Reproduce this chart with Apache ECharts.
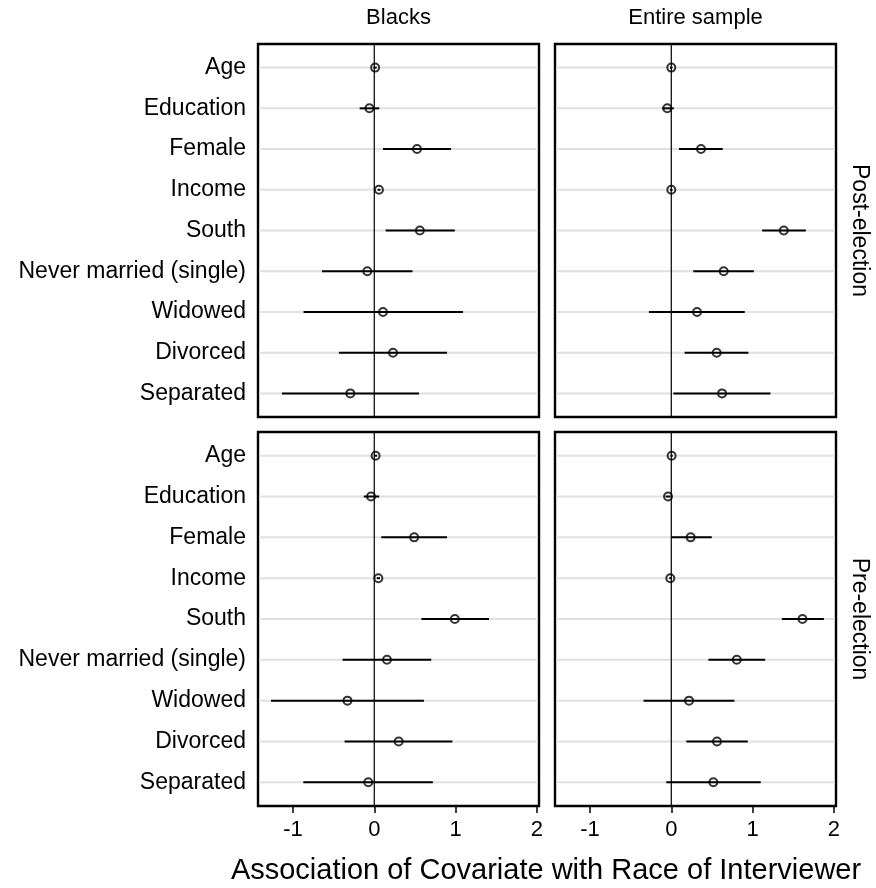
<!DOCTYPE html>
<html>
<head>
<meta charset="utf-8">
<script src="https://cdn.jsdelivr.net/npm/echarts@6/dist/echarts.min.js"></script>
<style>html,body{margin:0;padding:0;background:#fff}#c{width:876px;height:888px}</style>
</head>
<body>
<div id="c"></div>
<script>
const categories = ['Age','Education','Female','Income','South','Never married (single)','Widowed','Divorced','Separated'];
const xTicks = [-1, 0, 1, 2];
const colTitles = ['Blacks', 'Entire sample'];
const rowTitles = ['Post-election', 'Pre-election'];
const xTitle = 'Association of Covariate with Race of Interviewer';

// Post-election, Blacks
const postBlacksEst = [0.01, -0.06, 0.525, 0.057, 0.56, -0.086, 0.107, 0.23, -0.295];
const postBlacksLo  = [-0.01, -0.18, 0.107, 0.04, 0.14, -0.644, -0.87, -0.435, -1.136];
const postBlacksHi  = [0.03, 0.06, 0.943, 0.075, 0.99, 0.47, 1.09, 0.894, 0.55];
// Post-election, Entire sample
const postAllEst = [0.0, -0.05, 0.365, 0.0, 1.383, 0.644, 0.316, 0.558, 0.624];
const postAllLo  = [-0.015, -0.11, 0.094, -0.015, 1.117, 0.27, -0.275, 0.164, 0.025];
const postAllHi  = [0.015, 0.03, 0.632, 0.015, 1.654, 1.014, 0.903, 0.948, 1.219];
// Pre-election, Blacks
const preBlacksEst = [0.016, -0.04, 0.49, 0.05, 0.99, 0.156, -0.33, 0.30, -0.074];
const preBlacksLo  = [0.0, -0.13, 0.086, 0.03, 0.58, -0.39, -1.27, -0.365, -0.873];
const preBlacksHi  = [0.035, 0.06, 0.894, 0.07, 1.41, 0.70, 0.61, 0.96, 0.72];
// Pre-election, Entire sample
const preAllEst = [0.004, -0.04, 0.238, -0.012, 1.613, 0.805, 0.218, 0.562, 0.517];
const preAllLo  = [-0.01, -0.07, 0.0, -0.025, 1.359, 0.456, -0.341, 0.185, -0.062];
const preAllHi  = [0.018, -0.01, 0.497, 0.0, 1.876, 1.154, 0.776, 0.94, 1.10];

const FONT = '"Liberation Sans", Arial, Helvetica, sans-serif';

const panels = [
  {row: 0, col: 0, est: postBlacksEst, lo: postBlacksLo, hi: postBlacksHi},
  {row: 0, col: 1, est: postAllEst, lo: postAllLo, hi: postAllHi},
  {row: 1, col: 0, est: preBlacksEst, lo: preBlacksLo, hi: preBlacksHi},
  {row: 1, col: 1, est: preAllEst, lo: preAllLo, hi: preAllHi}
];
const colLeft = [258, 555];
const rowTop = [44, 432];
const rowH = [373, 374];
const W = 281;
const rowIdx = categories.map((c, i) => i + 1);

const grids = [], xAxes = [], yAxes = [], series = [];
panels.forEach((p, gi) => {
  grids.push({left: colLeft[p.col], top: rowTop[p.row], width: W, height: rowH[p.row],
    show: true, borderColor: '#000', borderWidth: 2.4, backgroundColor: 'rgba(0,0,0,0)'});
  const bottom = p.row === 1;
  xAxes.push({type: 'value', gridIndex: gi, min: -1.43, max: 2.025,
    axisLine: {show: false}, splitLine: {show: false},
    axisTick: {show: bottom, customValues: xTicks, length: 7, lineStyle: {color: '#000', width: 1.5}},
    axisLabel: {show: bottom, customValues: xTicks, fontSize: 22, color: '#000', fontFamily: FONT, margin: 13}});
  yAxes.push({type: 'value', gridIndex: gi, inverse: true, min: 0.42, max: 9.58,
    axisLine: {show: false}, splitLine: {show: false}, axisTick: {show: false},
    axisLabel: {show: p.col === 0, customValues: rowIdx, formatter: v => categories[Math.round(v) - 1],
      fontSize: 23, color: '#000', fontFamily: FONT, margin: 12}});
  // horizontal row lines
  series.push({type: 'custom', xAxisIndex: gi, yAxisIndex: gi, silent: true, z: 1,
    data: rowIdx.map(r => [0, r]),
    renderItem: (params, api) => {
      const cs = params.coordSys;
      const y = api.coord([0, api.value(1)])[1];
      return {type: 'line', shape: {x1: cs.x + 1, y1: y, x2: cs.x + cs.width - 1, y2: y},
        style: {stroke: '#e0e0e0', lineWidth: 2}};
    }});
  // zero line
  series.push({type: 'custom', xAxisIndex: gi, yAxisIndex: gi, silent: true, z: 2,
    data: [[0, 1]],
    renderItem: (params, api) => {
      const cs = params.coordSys;
      const x = api.coord([api.value(0), 1])[0];
      return {type: 'line', shape: {x1: x, y1: cs.y, x2: x, y2: cs.y + cs.height},
        style: {stroke: '#111', lineWidth: 1.3}};
    }});
  // confidence intervals
  series.push({type: 'custom', xAxisIndex: gi, yAxisIndex: gi, silent: true, z: 3,
    data: categories.map((c, i) => [p.lo[i], p.hi[i], i + 1]),
    renderItem: (params, api) => {
      const a = api.coord([api.value(0), api.value(2)]);
      const b = api.coord([api.value(1), api.value(2)]);
      return {type: 'line', shape: {x1: a[0], y1: a[1], x2: b[0], y2: b[1]},
        style: {stroke: '#000', lineWidth: 2}};
    }});
  // point estimates
  series.push({type: 'scatter', xAxisIndex: gi, yAxisIndex: gi, silent: true, z: 4,
    symbol: 'circle', symbolSize: 8,
    itemStyle: {color: 'rgba(255,255,255,0)', borderColor: '#000', borderWidth: 2},
    emphasis: {disabled: true},
    data: categories.map((c, i) => [p.est[i], i + 1])});
});

const txt = (text, x, y, size, rot) => ({type: 'text', x: x, y: y, rotation: rot || 0,
  style: {text: text, font: size + 'px ' + FONT, fill: '#000', align: 'center', verticalAlign: 'middle'}});

const graphic = [
  txt(colTitles[0], colLeft[0] + W / 2, 18, 22),
  txt(colTitles[1], colLeft[1] + W / 2, 18, 22),
  txt(rowTitles[0], 859, rowTop[0] + rowH[0] / 2, 23, -Math.PI / 2),
  txt(rowTitles[1], 859, rowTop[1] + rowH[1] / 2, 23, -Math.PI / 2),
  txt(xTitle, 546, 871, 29)
];

const chart = echarts.init(document.getElementById('c'), null, {renderer: 'canvas'});
chart.setOption({animation: false, backgroundColor: '#fff', grid: grids, xAxis: xAxes, yAxis: yAxes,
  series: series, graphic: graphic});
</script>
</body>
</html>
